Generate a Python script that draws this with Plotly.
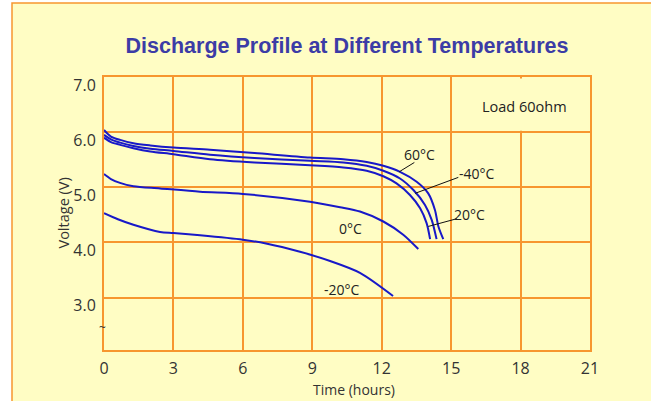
import plotly.graph_objects as go

# ---- data ----
t_60 = [0, 0.3, 0.7, 1.27, 2, 3, 4.58, 6.5, 8.9, 10.34, 11.35, 12.07, 12.79, 13.51, 14.01, 14.30, 14.45, 14.66]
v_60 = [6.04, 5.92, 5.86, 5.80, 5.76, 5.72, 5.68, 5.62, 5.54, 5.51, 5.46, 5.39, 5.28, 5.10, 4.89, 4.59, 4.29, 4.06]

t_m40 = [0, 0.3, 0.7, 1.27, 2, 3, 4.58, 6.5, 8.9, 10.34, 11.35, 12.07, 12.79, 13.37, 13.87, 14.16, 14.37]
v_m40 = [5.95, 5.87, 5.81, 5.75, 5.70, 5.66, 5.59, 5.53, 5.48, 5.45, 5.39, 5.30, 5.16, 4.95, 4.68, 4.41, 4.06]

t_20 = [0, 0.3, 0.7, 1.27, 2, 3, 4.58, 6.5, 8.9, 10.34, 11.35, 12.07, 12.64, 13.22, 13.66, 13.94, 14.09]
v_20 = [5.90, 5.82, 5.77, 5.71, 5.65, 5.60, 5.51, 5.45, 5.40, 5.36, 5.30, 5.20, 5.07, 4.86, 4.62, 4.35, 4.06]

t_0 = [0, 0.3, 0.69, 1.27, 2.42, 4.15, 6, 8.9, 10.2, 11.06, 12.07, 12.93, 13.58]
v_0 = [5.24, 5.15, 5.08, 5.02, 4.98, 4.92, 4.88, 4.74, 4.64, 4.56, 4.38, 4.14, 3.88]

t_m20 = [0, 0.6, 1.27, 2.42, 3, 4.15, 6, 7, 8.47, 9.8, 11.06, 12.49]
v_m20 = [4.53, 4.42, 4.32, 4.19, 4.17, 4.13, 4.05, 3.98, 3.83, 3.66, 3.45, 3.03]

x_ticks = [0, 3, 6, 9, 12, 15, 18, 21]
x_ticklabels = ["0", "3", "6", "9", "12", "15", "18", "21"]
y_ticks = [3, 4, 5, 6, 7]
y_ticklabels = ["3.0", "4.0", "5.0", "6.0", "7.0"]

title_text = "Discharge Profile at Different Temperatures"
x_title = "Time (hours)"
y_title = "Voltage (V)"
load_text = "Load 60ohm"

# ---- styling ----
BLUE = "#1818C8"
ORANGE = "#F7962F"
YELLOW = "#FFFDC4"
TXT = "#333333"
FONT = "Open Sans"

fig = go.Figure()
for tx, vy in [(t_60, v_60), (t_m40, v_m40), (t_20, v_20), (t_0, v_0), (t_m20, v_m20)]:
    fig.add_trace(go.Scatter(x=tx, y=vy, mode="lines",
                             line=dict(color=BLUE, width=2, shape="spline", smoothing=0.8),
                             hoverinfo="skip", showlegend=False))

X_RANGE = [0, 21]
Y_RANGE = [2.05, 7.0]

fig.update_layout(
    width=651, height=401,
    margin=dict(l=104, r=61, t=77, b=51, autoexpand=False),
    paper_bgcolor="white",
    plot_bgcolor=YELLOW,
    showlegend=False,
    title=dict(text=title_text, xref="paper", x=0.5, xanchor="center",
               yref="container", y=1 - 45 / 401, yanchor="middle",
               font=dict(family="Liberation Sans", size=21.5, color="#3C3CA6", weight="bold")),
    xaxis=dict(range=X_RANGE, tickvals=x_ticks, ticktext=x_ticklabels,
               showgrid=True, gridcolor=ORANGE, gridwidth=2,
               showline=True, linecolor=ORANGE, linewidth=2, mirror=True,
               zeroline=False, ticks="", ticklabelstandoff=3,
               tickfont=dict(family=FONT, size=16, color=TXT)),
    yaxis=dict(range=Y_RANGE, tickvals=y_ticks, ticktext=y_ticklabels,
               showgrid=True, gridcolor=ORANGE, gridwidth=2,
               showline=True, linecolor=ORANGE, linewidth=2, mirror=True,
               zeroline=False, ticks="", ticklabelstandoff=3, ticklabelshift=8,
               tickfont=dict(family=FONT, size=16, color=TXT)),
)

# yellow panel with orange left/top border
fig.add_shape(type="rect", xref="paper", yref="paper",
              x0=(12 - 104) / 486, x1=1.3, y0=-0.4, y1=1 + (77 - 3) / 273,
              fillcolor=YELLOW, line=dict(color=ORANGE, width=1.5), layer="below")

# box for the load label (no 18h gridline above 6.0 V)
fig.add_shape(type="rect", xref="x", yref="y", x0=15.08, x1=20.92, y0=6.025, y1=6.975,
              fillcolor=YELLOW, line=dict(width=0), layer="above")

lab_font = dict(family=FONT, size=14, color="#222222")
labels = [("60°C", 13.65, 5.60), ("-40°C", 16.10, 5.25), ("20°C", 15.81, 4.51),
          ("0°C", 10.63, 4.26), ("-20°C", 10.27, 3.14)]
for txt, lx, ly in labels:
    fig.add_annotation(x=lx, y=ly, text=txt, showarrow=False, font=lab_font,
                       xanchor="center", yanchor="middle")

leaders = [(13.41, 5.45, 12.75, 5.28), (15.31, 5.18, 13.44, 4.89), (15.24, 4.43, 14.01, 4.29)]
for x0, y0, x1, y1 in leaders:
    fig.add_shape(type="line", x0=x0, y0=y0, x1=x1, y1=y1, line=dict(color="#111111", width=1))

fig.add_annotation(x=18.19, y=6.47, text=load_text, showarrow=False,
                   font=dict(family=FONT, size=14.5, color="#222222"))

# axis-break tilde
fig.add_annotation(xref="paper", yref="paper", x=(102 - 104) / 486, y=(350 - 327) / 273,
                   text="~", showarrow=False, xanchor="center", yanchor="middle",
                   font=dict(family=FONT, size=12, color="#333333"))

fig.add_annotation(xref="paper", yref="paper", x=(63 - 104) / 486, y=0.5, text=y_title,
                   textangle=-90, showarrow=False, xanchor="center", yanchor="middle",
                   font=dict(family=FONT, size=14.5, color=TXT))
fig.add_annotation(xref="paper", yref="paper", x=(354 - 104) / 486, y=(350 - 389) / 273,
                   text=x_title, showarrow=False, xanchor="center", yanchor="middle",
                   font=dict(family=FONT, size=14, color=TXT))

fig.write_html("out.html", config={"displayModeBar": False},
               post_script="document.body.style.margin='0px';")
